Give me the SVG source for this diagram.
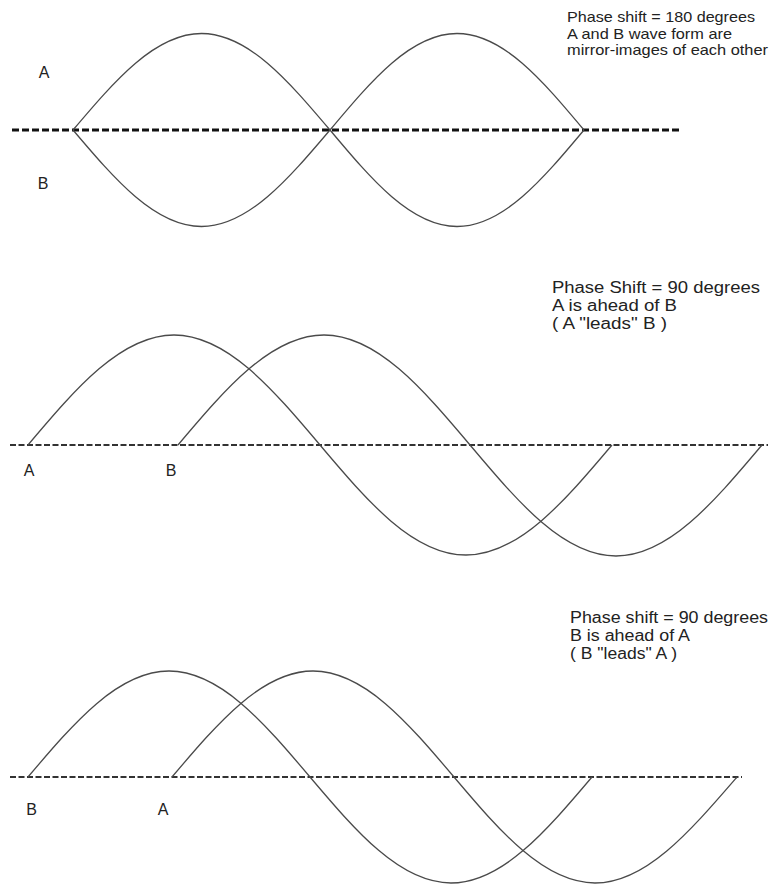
<svg xmlns="http://www.w3.org/2000/svg" width="771" height="886" viewBox="0 0 771 886">
<style>
  .bg { fill: #ffffff; }
  .wave { fill: none; stroke: #4a4a4a; stroke-width: 1.3; }
  .axis-top { stroke: #111; stroke-width: 3; stroke-dasharray: 7 3; fill: none; }
  .axis { stroke: #333; stroke-width: 2; stroke-dasharray: 6 2.5; fill: none; }
  .txt { font-family: "Liberation Sans", Arial, sans-serif; font-size: 15px; fill: #222; }
  .txt16 { font-family: "Liberation Sans", Arial, sans-serif; font-size: 16px; fill: #222; }
  .lbl { font-family: "Liberation Sans", Arial, sans-serif; font-size: 16px; fill: #222; text-anchor: middle; }
</style>
<rect class="bg" x="0" y="0" width="771" height="886"/>

<g id="panel-180">
  <g id="axis-180">
    <line class="axis-top" x1="12" y1="130" x2="680" y2="130"/>
  </g>
  <g id="wave-180-A">
    <path class="wave" d="M73,130 C114.9,80.6 155,33.5 201.5,33.5 C248,33.5 288.1,80.6 330,130 C371.4,179.4 411,226.5 457,226.5 C503,226.5 542.6,179.4 584,130"/>
  </g>
  <g id="wave-180-B">
    <path class="wave" d="M73,130 C114.9,179.4 155,226.5 201.5,226.5 C248,226.5 288.1,179.4 330,130 C371.4,80.6 411,33.5 457,33.5 C503,33.5 542.6,80.6 584,130"/>
  </g>
  <g id="labels-180">
    <text class="lbl" x="44" y="78">A</text>
    <text class="lbl" x="43" y="189">B</text>
  </g>
  <g id="note-180">
    <text class="txt" x="567" y="21.5" textLength="188" lengthAdjust="spacingAndGlyphs">Phase shift = 180 degrees</text>
    <text class="txt" x="567" y="38.5" textLength="165" lengthAdjust="spacingAndGlyphs">A and B wave form are</text>
    <text class="txt" x="567" y="55" textLength="201" lengthAdjust="spacingAndGlyphs">mirror-images of each other</text>
  </g>
</g>

<g id="panel-90-A-leads">
  <g id="axis-90a">
    <line class="axis" x1="10" y1="445" x2="768" y2="445"/>
  </g>
  <g id="wave-90a-A">
    <path class="wave" d="M28,445 C75.6,388.65 121.2,335 174,335 C226.8,335 272.4,388.65 320,445 C367.6,501.35 413.2,555 466,555 C518.8,555 564.4,501.35 612,445"/>
  </g>
  <g id="wave-90a-B">
    <path class="wave" d="M178,445 C225.6,388.65 271.2,335 324,335 C376.8,335 422.4,388.65 470,445 C517.6,501.35 563.2,556 616,556 C668.8,556 714.4,501.35 762,445"/>
  </g>
  <g id="labels-90a">
    <text class="lbl" x="29" y="476">A</text>
    <text class="lbl" x="171" y="476">B</text>
  </g>
  <g id="note-90a">
    <text class="txt16" x="552" y="293" textLength="208" lengthAdjust="spacingAndGlyphs">Phase Shift = 90 degrees</text>
    <text class="txt16" x="552" y="311" textLength="125" lengthAdjust="spacingAndGlyphs">A is ahead of B</text>
    <text class="txt16" x="552" y="329" textLength="115" lengthAdjust="spacingAndGlyphs">( A "leads" B )</text>
  </g>
</g>

<g id="panel-90-B-leads">
  <g id="axis-90b">
    <line class="axis" x1="10" y1="777" x2="742" y2="777"/>
  </g>
  <g id="wave-90b-B">
    <path class="wave" d="M28,777 C74,722.7 118,671 169,671 C220,671 264,722.7 310,777 C356,831.3 400,883 451,883 C502,883 546,831.3 592,777"/>
  </g>
  <g id="wave-90b-A">
    <path class="wave" d="M172,777 C218,722.7 262,671 313,671 C364,671 408,722.7 454,777 C500,831.3 544,883 595,883 C646,883 690,831.3 737,777"/>
  </g>
  <g id="labels-90b">
    <text class="lbl" x="31.5" y="815">B</text>
    <text class="lbl" x="163" y="815">A</text>
  </g>
  <g id="note-90b">
    <text class="txt16" x="570" y="623" textLength="198" lengthAdjust="spacingAndGlyphs">Phase shift = 90 degrees</text>
    <text class="txt16" x="570" y="641" textLength="120" lengthAdjust="spacingAndGlyphs">B is ahead of A</text>
    <text class="txt16" x="570" y="659" textLength="107" lengthAdjust="spacingAndGlyphs">( B "leads" A )</text>
  </g>
</g>
</svg>
